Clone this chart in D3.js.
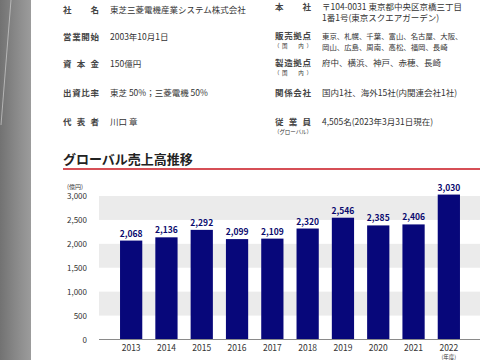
<!DOCTYPE html>
<html><head><meta charset="utf-8">
<script src="https://cdn.jsdelivr.net/npm/d3@7"></script>
<style>
html,body{margin:0;padding:0;background:#fff;}
svg{display:block;}
text{font-family:"Noto Sans CJK JP","Noto Sans",sans-serif;}
</style></head><body>
<script>
const years = ["2013","2014","2015","2016","2017","2018","2019","2020","2021","2022"];
const sales = [2068, 2136, 2292, 2099, 2109, 2320, 2546, 2385, 2406, 3030];
const yTicks = [0, 500, 1000, 1500, 2000, 2500, 3000];
const title = "グローバル売上高推移";
const unitLabel = "(億円)";
const lastYearNote = "(年度)";
const leftLabels = ["社　　名","営業開始","資 本 金","出資比率","代 表 者"];
const leftValues = ["東芝三菱電機産業システム株式会社","2003年10月1日","150億円","東芝 50%；三菱電機 50%","川口 章"];
const rightLabels = ["本　　社","販売拠点","製造拠点","関係会社","従 業 員"];
const rightSub = ["","（国　内）","（国　内）","","（グローバル）"];
const rightValues = [
  ["〒104-0031 東京都中央区京橋三丁目","1番1号(東京スクエアガーデン)"],
  ["東京、札幌、千葉、富山、名古屋、大阪、","岡山、広島、周南、高松、福岡、長崎"],
  ["府中、横浜、神戸、赤穂、長崎"],
  ["国内1社、海外15社(内関連会社1社)"],
  ["4,505名(2023年3月31日現在)"]
];

const W = 480, H = 360;
const svg = d3.select("body").append("svg").attr("width", W).attr("height", H);
const defs = svg.append("defs");
const g1 = defs.append("linearGradient").attr("id","strip").attr("x1","0").attr("x2","1").attr("y1","0").attr("y2","0");
g1.append("stop").attr("offset","0").attr("stop-color","#727272");
g1.append("stop").attr("offset","0.5").attr("stop-color","#888");
g1.append("stop").attr("offset","1").attr("stop-color","#9c9c9c");
svg.append("rect").attr("x",0).attr("y",0).attr("width",31).attr("height",H).attr("fill","url(#strip)");
svg.append("line").attr("x1",11).attr("y1",0).attr("x2",1).attr("y2",125)
  .attr("stroke","#d8d8d8").attr("stroke-width",0.8).attr("opacity",0.8);

// Info block
const leftY = [10, 37, 64, 93, 122];
const rightY = [7.5, 36.5, 63.5, 93, 122.5];
const info = svg.append("g").attr("font-size", 8.5).attr("fill", "#333");
leftLabels.forEach((l, i) => {
  info.append("text").attr("x", 63).attr("y", leftY[i]).attr("dy","0.35em")
    .attr("textLength", 36).attr("lengthAdjust","spacing").attr("font-weight","bold").attr("fill","#444").text(l);
  info.append("text").attr("x", 110).attr("y", leftY[i]).attr("dy","0.35em").text(leftValues[i]);
});
rightLabels.forEach((l, i) => {
  info.append("text").attr("x", 275).attr("y", rightY[i]).attr("dy","0.35em")
    .attr("textLength", 36).attr("lengthAdjust","spacing").attr("font-weight","bold").attr("fill","#444").text(l);
  if (rightSub[i]) {
    info.append("text").attr("x", 274).attr("y", rightY[i] + 9.5).attr("dy","0.35em")
      .attr("font-size", 5.5).attr("textLength", 38).attr("lengthAdjust","spacing").text(rightSub[i]);
  }
  rightValues[i].forEach((v, j) => {
    const t = info.append("text").attr("x", 322).attr("y", rightY[i] + j * 10.5).attr("dy","0.35em").text(v);
    if (i === 1) t.attr("font-size", 7.4);
  });
});

// Title
svg.append("text").attr("x", 63).attr("y", 159).attr("dy","0.35em")
  .attr("font-size", 13).attr("font-weight","bold").attr("fill","#222").text(title);
svg.append("line").attr("x1", 63).attr("x2", W).attr("y1", 169).attr("y2", 169)
  .attr("stroke", "#c8141e").attr("stroke-width", 1.4);

// Chart
const plotLeft = 99, plotRight = 480;
const y = d3.scaleLinear().domain([0, 3000]).range([339.5, 196]);
const x = d3.scaleBand().domain(years).range([113.5, 466.5]).paddingInner(0.37).paddingOuter(0.185);

const bandPairs = d3.pairs(yTicks).filter((p, i) => i % 2 === 1);
svg.append("g").selectAll("rect").data(bandPairs).join("rect")
  .attr("x", plotLeft).attr("width", plotRight - plotLeft)
  .attr("y", d => y(d[1])).attr("height", d => y(d[0]) - y(d[1]))
  .attr("fill", "#ebebeb");

const yAxis = d3.axisLeft(y).tickValues(yTicks).tickSize(0).tickPadding(0)
  .tickFormat(d3.format(","));
const ya = svg.append("g").attr("transform", "translate(87,0)").call(yAxis);
ya.select(".domain").remove();
ya.selectAll("text").attr("font-size", 8).attr("fill", "#333")
  .attr("font-family", "'Liberation Sans','Noto Sans',sans-serif");

svg.append("text").attr("x", 67).attr("y", 186.5).attr("dy","0.35em")
  .attr("font-size", 6).attr("fill","#333").text(unitLabel);

svg.append("g").selectAll("rect").data(years).join("rect")
  .attr("x", d => x(d)).attr("width", x.bandwidth())
  .attr("y", (d, i) => y(sales[i])).attr("height", (d, i) => y(0) - y(sales[i]))
  .attr("fill", "#07077a");

svg.append("g").selectAll("text").data(years).join("text")
  .attr("x", d => x(d) + x.bandwidth() / 2).attr("y", (d, i) => y(sales[i]) - 4)
  .attr("text-anchor", "middle").attr("font-size", 8.5).attr("font-weight", "bold")
  .attr("font-family", "'Liberation Sans','Noto Sans',sans-serif")
  .attr("fill", "#0a0a6e").text((d, i) => d3.format(",")(sales[i]));

const xAxis = d3.axisBottom(x).tickSize(0).tickPadding(5);
const xa = svg.append("g").attr("transform", `translate(0,${y(0)})`).call(xAxis);
xa.select(".domain").remove();
xa.selectAll("text").attr("font-size", 8.5).attr("fill", "#333")
  .attr("font-family", "'Liberation Sans','Noto Sans',sans-serif");
svg.append("line").attr("x1", plotLeft).attr("x2", plotRight).attr("y1", y(0)).attr("y2", y(0))
  .attr("stroke", "#8a8a8a").attr("stroke-width", 1.2);
svg.append("text").attr("x", x("2022") + x.bandwidth() / 2).attr("y", 357.3).attr("dy","0.35em")
  .attr("text-anchor","middle").attr("font-size", 5.5).attr("fill","#333").text(lastYearNote);
</script>
</body></html>
